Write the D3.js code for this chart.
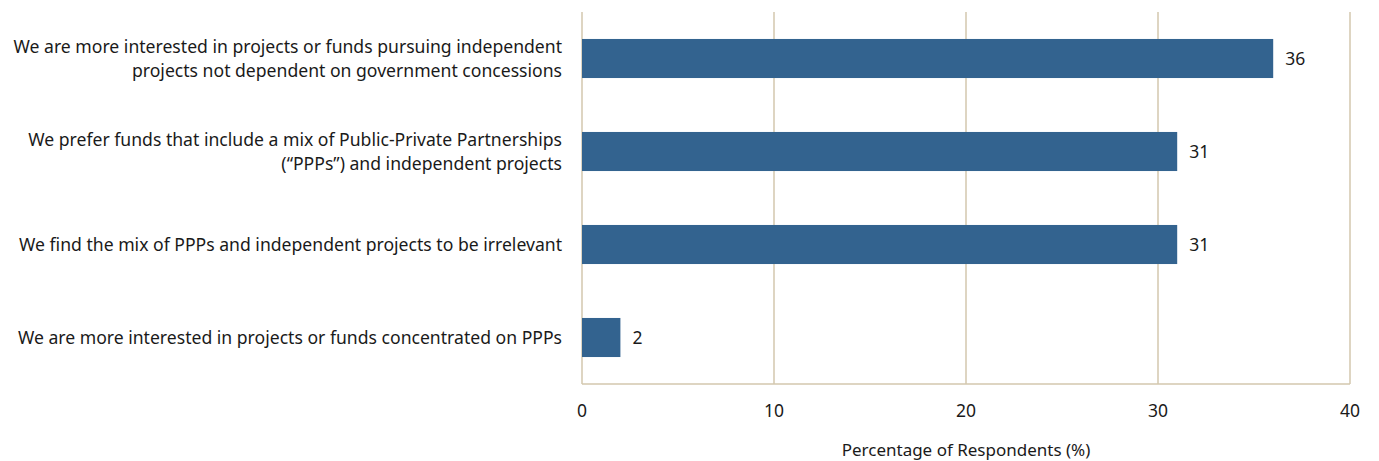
<!DOCTYPE html>
<html>
<head>
<meta charset="utf-8">
<script src="https://cdn.jsdelivr.net/npm/d3@7"></script>
<style>
  body { margin: 0; background: #fff; }
  svg text { font-family: "Noto Sans", "Open Sans", sans-serif; fill: #1a1a1a; }
</style>
</head>
<body>
<svg id="chart"></svg>
<script>
// categories, each label split into its display lines
var categories = [
  ["We are more interested in projects or funds pursuing independent", "projects not dependent on government concessions"],
  ["We prefer funds that include a mix of Public-Private Partnerships", "(\u201CPPPs\u201D) and independent projects"],
  ["We find the mix of PPPs and independent projects to be irrelevant"],
  ["We are more interested in projects or funds concentrated on PPPs"]
];
var values = [36, 31, 31, 2];
var tickValues = [0, 10, 20, 30, 40];
var axisTitle = "Percentage of Respondents (%)";

var w = 1379;
var h = 461;
var margin = {top: 12, right: 29, bottom: 77, left: 582};
var gridColor = "#d3c7ae";
var barColor = "#33638f";

var svg = d3.select("#chart")
            .attr("width", w)
            .attr("height", h);

var scaleX = d3.scaleLinear()
  .domain([0, 40])
  .range([margin.left, w - margin.right]);

var scaleY = d3.scaleBand()
  .domain(d3.range(values.length))
  .range([margin.top, h - margin.bottom])
  .paddingInner(0.58)
  .paddingOuter(0.29);

// vertical grid lines
svg.selectAll("line.grid")
  .data(tickValues)
  .enter()
  .append("line")
    .attr("class", "grid")
    .attr("x1", function(d){ return scaleX(d); })
    .attr("x2", function(d){ return scaleX(d); })
    .attr("y1", margin.top)
    .attr("y2", h - margin.bottom)
    .style("stroke", gridColor)
    .style("stroke-width", 1.5);

// bottom axis line
svg.append("line")
  .attr("x1", scaleX(0))
  .attr("x2", scaleX(40))
  .attr("y1", h - margin.bottom)
  .attr("y2", h - margin.bottom)
  .style("stroke", gridColor)
  .style("stroke-width", 1.5);

// tick labels
svg.selectAll("text.tick")
  .data(tickValues)
  .enter()
  .append("text")
    .attr("class", "tick")
    .attr("x", function(d){ return scaleX(d); })
    .attr("y", h - margin.bottom + 33)
    .attr("text-anchor", "middle")
    .style("font-size", "17.5px")
    .text(function(d){ return d; });

svg.append("text")
  .attr("x", (scaleX(0) + scaleX(40)) / 2)
  .attr("y", h - 5)
  .attr("text-anchor", "middle")
  .style("font-size", "17px")
  .text(axisTitle);

// bars
svg.selectAll("rect.bar")
  .data(values)
  .enter()
  .append("rect")
    .attr("class", "bar")
    .attr("x", scaleX(0))
    .attr("y", function(d, i){ return scaleY(i); })
    .attr("width", function(d){ return scaleX(d) - scaleX(0); })
    .attr("height", scaleY.bandwidth())
    .style("fill", barColor);

// value labels
svg.selectAll("text.val")
  .data(values)
  .enter()
  .append("text")
    .attr("class", "val")
    .attr("x", function(d){ return scaleX(d) + 12; })
    .attr("y", function(d, i){ return scaleY(i) + scaleY.bandwidth() / 2; })
    .attr("dy", "0.35em")
    .style("font-size", "17.5px")
    .text(function(d){ return d; });

// category labels, right aligned against the axis
var lineH = 24;
categories.forEach(function(lines, i){
  var cy = scaleY(i) + scaleY.bandwidth() / 2;
  var t = svg.append("text")
    .attr("text-anchor", "end")
    .style("font-size", "17.6px");
  lines.forEach(function(line, j){
    t.append("tspan")
      .attr("x", margin.left - 20)
      .attr("y", cy + (j - (lines.length - 1) / 2) * lineH)
      .attr("dy", "0.35em")
      .text(line);
  });
});
</script>
</body>
</html>
